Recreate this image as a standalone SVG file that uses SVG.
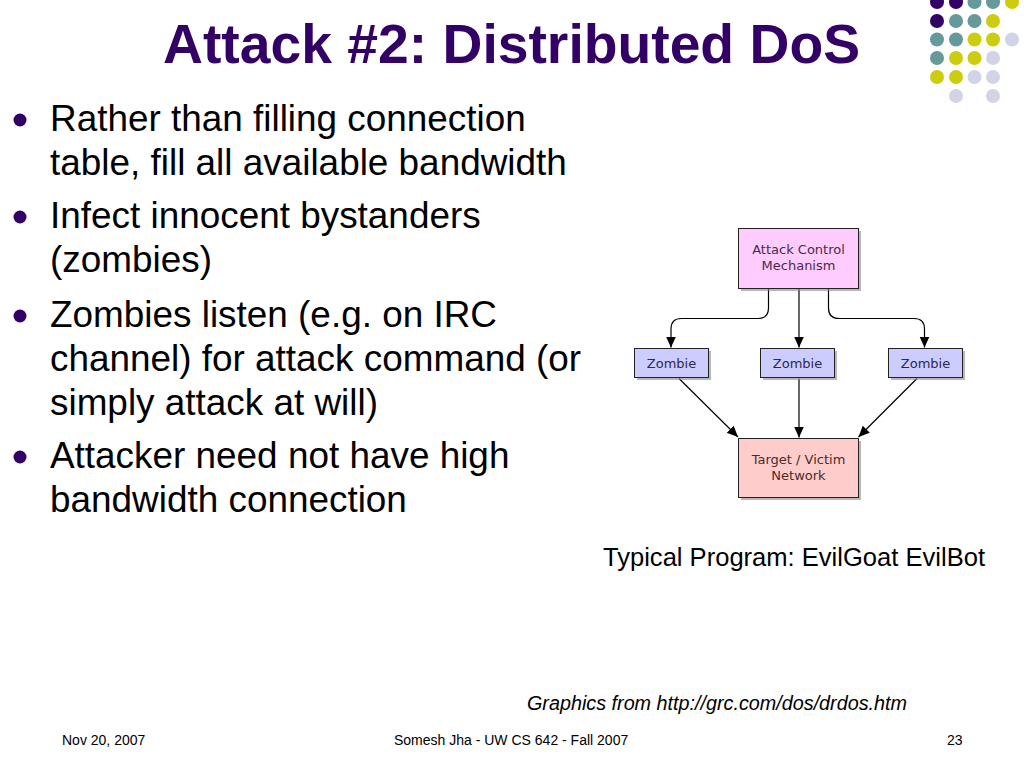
<svg xmlns="http://www.w3.org/2000/svg" width="1024" height="768" viewBox="0 0 1024 768">
<defs>
<style>
.title{font-family:"Liberation Sans",Arial,sans-serif;font-weight:bold;font-size:55px;fill:#330066}
.body{font-family:"Liberation Sans",Arial,sans-serif;font-size:36.9px;fill:#000}
.cap{font-family:"Liberation Sans",Arial,sans-serif;font-size:25px;fill:#000}
.src{font-family:"Liberation Sans",Arial,sans-serif;font-size:20px;font-style:italic;fill:#000}
.foot{font-family:"Liberation Sans",Arial,sans-serif;font-size:14px;fill:#000}
.bul{fill:#330066}
.box{stroke:#222;stroke-width:1}
.shadow{fill:#888;opacity:0.6}
.lbl{font-family:"DejaVu Sans",Verdana,sans-serif;font-size:13px;text-anchor:middle}
.conn{fill:none;stroke:#000;stroke-width:1.2}
.dp{fill:#330066}.dt{fill:#669999}.dy{fill:#CCCC11}.dl{fill:#D3D3E8}
</style>
<marker id="ah" markerUnits="userSpaceOnUse" markerWidth="12" markerHeight="12" viewBox="0 0 12 12" refX="11" refY="6" orient="auto">
<path d="M0,1 L11,6 L0,11 Z" fill="#000"/>
</marker>
</defs>
<rect width="1024" height="768" fill="#fff"/>

<g id="decor">
<circle class="dp" cx="937" cy="2" r="7"/><circle class="dp" cx="956" cy="2" r="7"/><circle class="dt" cx="974.5" cy="2" r="7"/><circle class="dt" cx="993" cy="2" r="7"/><circle class="dy" cx="1012" cy="2" r="7"/>
<circle class="dp" cx="937" cy="21" r="7"/><circle class="dt" cx="956" cy="21" r="7"/><circle class="dt" cx="974.5" cy="21" r="7"/><circle class="dy" cx="993" cy="21" r="7"/>
<circle class="dt" cx="937" cy="39.5" r="7"/><circle class="dt" cx="956" cy="39.5" r="7"/><circle class="dy" cx="974.5" cy="39.5" r="7"/><circle class="dy" cx="993" cy="39.5" r="7"/><circle class="dl" cx="1012" cy="39.5" r="7"/>
<circle class="dt" cx="937" cy="58" r="7"/><circle class="dy" cx="956" cy="58" r="7"/><circle class="dy" cx="974.5" cy="58" r="7"/><circle class="dl" cx="993" cy="58" r="7"/>
<circle class="dy" cx="937" cy="77" r="7"/><circle class="dy" cx="956" cy="77" r="7"/><circle class="dl" cx="974.5" cy="77" r="7"/><circle class="dl" cx="993" cy="77" r="7"/>
<circle class="dl" cx="956" cy="96" r="7"/><circle class="dl" cx="993" cy="96" r="7"/>
</g>

<text class="title" x="163" y="63" textLength="697" lengthAdjust="spacingAndGlyphs">Attack #2: Distributed DoS</text>

<g id="bullets">
<circle class="bul" cx="20" cy="120" r="6.5"/>
<text class="body" x="50" y="131">Rather than filling connection</text>
<text class="body" x="50" y="175">table, fill all available bandwidth</text>
<circle class="bul" cx="20" cy="217" r="6.5"/>
<text class="body" x="50" y="228">Infect innocent bystanders</text>
<text class="body" x="50" y="272">(zombies)</text>
<circle class="bul" cx="20" cy="316" r="6.5"/>
<text class="body" x="50" y="327">Zombies listen (e.g. on IRC</text>
<text class="body" x="50" y="371">channel) for attack command (or</text>
<text class="body" x="50" y="415">simply attack at will)</text>
<circle class="bul" cx="20" cy="457" r="6.5"/>
<text class="body" x="50" y="468">Attacker need not have high</text>
<text class="body" x="50" y="512">bandwidth connection</text>
</g>

<g id="connectors">
<path class="conn" d="M768.5,289 V308 Q768.5,318.5 758,318.5 H681.5 Q671,318.5 671,329 V347.5" marker-end="url(#ah)"/>
<path class="conn" d="M799,289 V347.5" marker-end="url(#ah)"/>
<path class="conn" d="M828.5,289 V308 Q828.5,318.5 839,318.5 H914 Q924.5,318.5 924.5,329 V347.5" marker-end="url(#ah)"/>
<path class="conn" d="M679,378.5 L738,437" marker-end="url(#ah)"/>
<path class="conn" d="M799,378.5 V437.5" marker-end="url(#ah)"/>
<path class="conn" d="M917,378.5 L858.5,437" marker-end="url(#ah)"/>
</g>

<g id="control">
<rect class="shadow" x="741" y="231" width="120" height="60"/>
<rect class="box" x="738.5" y="228.5" width="120" height="60" fill="#FFCCFF"/>
<text class="lbl" x="798.5" y="254" fill="#4a2a4a">Attack Control</text>
<text class="lbl" x="798.5" y="270" fill="#4a2a4a">Mechanism</text>
</g>
<g id="zombie1">
<rect class="shadow" x="637" y="351" width="74" height="29"/>
<rect class="box" x="634.5" y="348.5" width="74" height="29" fill="#CCCCFF"/>
<text class="lbl" x="671.5" y="367.5" fill="#2a2a4a">Zombie</text>
</g>
<g id="zombie2">
<rect class="shadow" x="763" y="351" width="74" height="29"/>
<rect class="box" x="760.5" y="348.5" width="74" height="29" fill="#CCCCFF"/>
<text class="lbl" x="797.5" y="367.5" fill="#2a2a4a">Zombie</text>
</g>
<g id="zombie3">
<rect class="shadow" x="891" y="351" width="74" height="29"/>
<rect class="box" x="888.5" y="348.5" width="74" height="29" fill="#CCCCFF"/>
<text class="lbl" x="925.5" y="367.5" fill="#2a2a4a">Zombie</text>
</g>
<g id="target">
<rect class="shadow" x="741" y="441" width="120" height="59"/>
<rect class="box" x="738.5" y="438.5" width="120" height="59" fill="#FFCCCC"/>
<text class="lbl" x="798.5" y="464" fill="#4a2a2a">Target / Victim</text>
<text class="lbl" x="798.5" y="480" fill="#4a2a2a">Network</text>
</g>

<text class="cap" x="603" y="566" textLength="382" lengthAdjust="spacingAndGlyphs">Typical Program: EvilGoat EvilBot</text>
<text class="src" x="527" y="710" textLength="380" lengthAdjust="spacingAndGlyphs">Graphics from http://grc.com/dos/drdos.htm</text>

<g id="footer">
<text class="foot" x="62" y="745">Nov 20, 2007</text>
<text class="foot" x="394" y="745">Somesh Jha - UW CS 642 - Fall 2007</text>
<text class="foot" x="947" y="745">23</text>
</g>
</svg>
